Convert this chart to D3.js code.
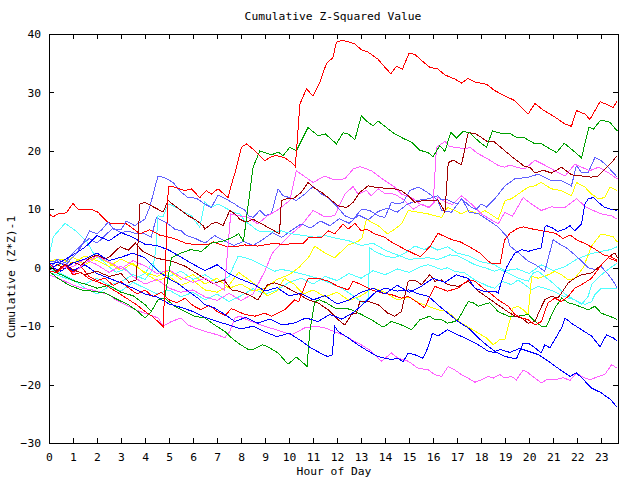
<!DOCTYPE html>
<html><head><meta charset="utf-8">
<script src="https://cdn.jsdelivr.net/npm/d3@7"></script>
<style>
body{margin:0;background:#fff;}
svg text{font-family:"DejaVu Sans Mono","Liberation Mono",monospace;font-size:11.3px;fill:#000;}
</style></head><body>
<svg id="c" width="640" height="480"></svg>
<script>
// ---- data ----
const title = "Cumulative Z-Squared Value";
const xTitle = "Hour of Day";
const yTitle = "Cumulative (Z*Z)-1";
const hourTicks = d3.range(0, 24);
const valueTicks = [-30, -20, -10, 0, 10, 20, 30, 40];
const xDomain = [0, 23.7];
const yDomain = [-30, 40];

const redA = [[0,-0.6],[0.33,-0.8],[0.67,0.5],[1,-1.2],[1.33,-0.8],[1.67,-1.9],[2,-2.4],[2.33,-2.9],[2.68,-3.8],[3,-4.6],[3.33,-5.5],[3.67,-6.4],[4,-7.5],[4.33,-8.4],[4.76,-10.1],[4.97,13.9],[5.24,13.8],[5.65,13.2],[5.93,13.5],[6.28,12.0],[6.55,13.2],[6.76,12.6],[7.04,13.5],[7.46,12.0],[7.57,13.8],[7.8,17.0],[8.01,20.6],[8.22,21.2],[8.5,20.3],[8.99,18.3],[9.26,19.0],[9.47,19.2],[9.82,18.8],[10.1,18.0],[10.26,17.3],[10.45,28.0],[10.72,30.6],[11.0,29.4],[11.28,31.7],[11.55,34.9],[11.83,36.0],[11.97,38.6],[12.18,38.9],[12.46,38.7],[12.74,38.3],[13.01,37.3],[13.29,36.9],[13.7,35.7],[13.99,34.3],[14.24,33.2],[14.47,34.5],[14.72,34.0],[15.0,36.7],[15.24,36.5],[15.65,35.0],[15.86,34.3],[16.2,34.0],[16.49,33.0],[16.9,32.3],[17.18,31.6],[17.46,32.4],[17.74,31.8],[18.22,31.4],[18.57,30.3],[18.99,29.4],[19.4,28.6],[19.96,26.3],[20.24,28.1],[20.58,27.0],[21.07,25.8],[21.49,24.6],[21.76,24.2],[21.97,26.9],[22.32,26.3],[22.53,25.4],[22.95,28.4],[23.22,28.0],[23.5,27.4],[23.67,28.6]];
const greenB = [[0,0.4],[0.33,-0.9],[0.67,-1.5],[1,-2.2],[1.5,-2.8],[2,-3.5],[2.5,-3.0],[3,-4.2],[3.5,-4.8],[4,-6.3],[4.26,-7.5],[4.54,-5.5],[4.82,-5.2],[5.1,1.7],[5.5,2.5],[5.9,3.1],[6.35,2.8],[6.76,4.2],[7.2,4.5],[7.6,5.1],[7.9,5.8],[8.1,4.5],[8.5,17.2],[8.78,20.0],[9.05,19.6],[9.26,19.3],[9.54,19.8],[9.75,19.2],[10.03,20.6],[10.3,20.0],[10.79,24.0],[11.2,22.6],[11.51,22.9],[11.97,21.2],[12.25,23.1],[12.46,22.9],[12.74,21.9],[13.01,26.0],[13.22,25.1],[13.5,24.3],[13.71,25.1],[14.05,24.0],[14.4,22.9],[14.82,22.0],[15.1,21.5],[15.45,20.1],[15.79,19.7],[16.0,19.0],[16.28,20.9],[16.49,19.9],[16.74,23.2],[16.97,22.2],[17.25,23.3],[17.53,23.1],[17.88,21.7],[18.22,20.6],[18.47,23.4],[18.85,23.0],[19.2,23.0],[19.47,22.3],[19.82,22.2],[20.24,21.2],[20.51,21.2],[21.14,19.7],[21.46,21.3],[21.76,20.3],[22.18,18.8],[22.49,24.1],[22.67,23.7],[22.99,25.3],[23.36,24.9],[23.67,23.4]];
const magentaC = [[0,0.5],[0.33,-0.6],[0.67,0.2],[1,-1.0],[1.5,0.8],[2,2.0],[2.5,1.0],[3,-0.2],[3.5,1.2],[4,0.3],[4.5,-1.0],[5,-0.4],[5.5,-1.6],[6,-2.5],[6.5,-1.8],[7,-3.0],[7.3,-3.8],[7.57,9.2],[7.88,8.9],[8.3,8.6],[8.7,7.5],[9.1,8.9],[9.5,9.8],[10.03,11.5],[10.3,16.6],[11.0,14.6],[11.49,15.7],[11.83,15.1],[12.32,15.2],[12.67,16.9],[12.95,17.3],[13.43,16.6],[13.99,14.9],[14.4,13.8],[14.68,12.6],[15.1,12.0],[15.45,10.9],[15.8,10.3],[16.0,11.0],[16.14,20.6],[16.49,21.6],[16.7,20.7],[16.97,20.6],[17.32,20.3],[17.53,20.6],[17.88,19.5],[18.29,18.6],[18.71,17.5],[18.99,17.2],[19.2,17.6],[19.47,17.2],[19.82,16.9],[20.24,18.4],[20.58,17.7],[21.07,16.6],[21.49,15.7],[21.9,17.7],[22.18,17.2],[22.53,16.6],[22.88,17.2],[23.29,16.3],[23.67,15.2]];
const magentaD = [[0,-0.3],[0.5,0.8],[1,0.2],[1.5,1.5],[2,0.5],[2.5,-0.8],[3,0.3],[3.5,-1.5],[4,-2.8],[4.5,-2.0],[5,-3.5],[5.5,-4.2],[6,-3.8],[6.5,-5.0],[7,-5.6],[7.5,-4.4],[8,-5.6],[8.5,-4.5],[9,-0.5],[9.3,2.5],[9.6,3.8],[10.1,5.8],[10.5,7.2],[11.0,9.8],[11.49,8.7],[11.9,8.9],[12.32,12.6],[12.67,13.9],[12.87,12.6],[13.22,13.2],[13.43,12.3],[13.71,13.5],[13.99,12.7],[14.4,12.6],[14.82,11.5],[15.17,10.0],[15.51,10.9],[15.86,10.3],[16.2,12.0],[16.56,11.2],[16.8,10.8],[17.18,12.3],[17.6,10.9],[18.01,9.2],[18.71,7.5],[18.99,9.5],[19.3,8.8],[19.75,12.0],[20.1,10.9],[20.5,9.8],[20.93,10.4],[21.49,10.3],[21.97,11.8],[22.39,10.3],[23.01,9.2],[23.43,8.9],[23.67,8.3]];
const darkRedE = [[0,0.2],[0.33,-0.6],[0.67,0.6],[1,-0.3],[1.5,-1.2],[2,-0.6],[2.5,-1.5],[3,-1.0],[3.33,-2.5],[3.64,-2.1],[3.78,10.9],[3.99,11.2],[4.26,10.6],[4.54,10.0],[4.75,9.5],[4.96,11.5],[5.24,10.6],[5.51,9.8],[5.79,8.9],[6.07,8.3],[6.42,7.2],[6.49,6.6],[6.76,7.5],[6.97,7.8],[7.25,7.2],[7.53,9.8],[7.74,9.2],[7.95,8.3],[8.2,7.8],[8.5,8.3],[8.99,7.2],[9.47,6.1],[9.6,5.8],[9.68,11.5],[9.89,11.8],[10.2,11.9],[10.51,12.9],[10.79,14.6],[11.0,13.8],[11.35,12.9],[11.63,12.0],[12.04,10.6],[12.39,10.3],[12.67,11.2],[12.95,12.9],[13.29,14.0],[13.57,13.8],[13.99,13.6],[14.4,13.5],[14.68,13.2],[14.96,12.3],[15.24,11.2],[15.58,11.5],[15.86,11.5],[16.2,11.6],[16.4,10.2],[16.49,9.5],[16.63,18.0],[16.84,18.4],[17.18,17.6],[17.46,23.1],[17.74,23.0],[18.01,22.3],[18.29,21.5],[18.5,21.7],[18.99,20.0],[19.4,18.6],[19.82,17.3],[20.03,17.2],[20.24,16.2],[20.58,16.7],[20.93,16.2],[21.35,17.2],[21.76,15.9],[22.18,15.7],[22.6,15.5],[22.88,15.7],[23.15,16.9],[23.43,18.0],[23.67,19.2]];
const slateF = [[0,1.0],[0.33,1.2],[0.67,0.4],[1,1.8],[1.33,3.5],[1.69,6.3],[2.0,5.8],[2.2,6.5],[2.46,7.8],[2.7,6.6],[3.0,6.5],[3.22,8.0],[3.57,7.2],[3.99,8.3],[4.19,10.3],[4.54,15.7],[4.82,15.4],[5.17,14.6],[5.51,12.9],[5.79,12.0],[6.14,11.9],[6.49,10.9],[6.76,10.3],[7.04,12.4],[7.32,11.9],[7.74,10.9],[7.95,10.3],[8.15,9.9],[8.3,8.9],[8.5,8.6],[8.78,9.8],[9.0,8.9],[9.26,9.2],[9.54,13.5],[9.75,12.3],[10.03,12.0],[10.3,11.5],[10.65,12.6],[11.0,13.9],[11.35,12.6],[11.63,12.0],[11.97,10.6],[12.32,8.9],[12.67,8.3],[13.01,10.0],[13.36,9.8],[13.71,8.9],[13.99,8.6],[14.26,11.2],[14.5,10.9],[14.75,11.2],[15.03,13.2],[15.37,13.8],[15.65,13.2],[15.86,12.6],[16.2,11.5],[16.35,9.8],[16.76,9.5],[17.18,11.8],[17.6,10.3],[17.8,10.0],[18.0,10.9],[18.22,10.4],[18.57,11.8],[18.99,14.0],[19.4,15.2],[19.96,15.5],[20.37,16.0],[20.93,14.9],[21.35,14.9],[21.76,14.0],[21.97,17.5],[22.18,16.3],[22.46,16.3],[22.74,18.9],[23.01,18.3],[23.29,17.2],[23.67,15.5]];
const slateG = [[0,-0.4],[0.33,1.5],[0.67,0.8],[1,2.5],[1.33,3.8],[1.67,5.0],[2,4.2],[2.33,5.5],[2.67,6.8],[3,6.0],[3.29,6.3],[3.64,5.8],[3.99,5.8],[4.26,5.2],[4.47,8.6],[4.75,8.0],[4.96,7.5],[5.24,6.6],[5.51,6.3],[5.72,5.5],[6.1,5.0],[6.5,4.2],[6.9,5.5],[7.3,4.6],[7.7,3.8],[8.1,4.5],[8.5,3.8],[8.9,4.8],[9.3,6.0],[9.7,5.2],[10.1,6.4],[10.5,7.5],[10.9,6.8],[11.3,8.0],[11.7,7.2],[12.1,8.4],[12.5,7.6],[12.9,9.0],[13.3,8.2],[13.7,9.6],[14.1,10.2],[14.5,9.5],[14.9,10.8],[15.3,11.5],[15.8,11.8],[16.2,12.3],[16.35,11.6],[16.6,11.6],[17,10.9],[17.2,11.8],[17.5,9.5],[17.9,9.2],[18.2,8.4],[18.7,7.0],[19.1,5.2],[19.2,3.7],[19.6,2.4],[19.96,1.1],[20.3,0.4],[20.65,-0.6],[21.0,4.8],[21.2,4.2],[21.55,3.4],[21.9,2.2],[22.2,1.1],[22.46,0],[22.74,-0.3],[23.0,0.2],[23.3,-1.2],[23.5,-2.3],[23.67,-3.5]];
const greenH = [[0,-0.6],[0.37,-1.8],[0.79,-2.9],[1.35,-3.8],[1.76,-4.0],[2.32,-4.3],[2.6,-4.9],[2.88,-5.5],[3.29,-6.3],[3.71,-7.5],[3.99,-8.6],[4.26,-7.5],[4.54,-5.5],[4.82,-5.2],[5.24,-6.6],[5.65,-7.5],[6.07,-8.3],[6.49,-8.6],[6.9,-9.8],[7.32,-10.9],[7.6,-12.0],[7.88,-12.9],[8.3,-14.0],[8.5,-14.0],[8.9,-13.2],[9.1,-13.5],[9.54,-14.6],[9.96,-16.5],[10.3,-15.3],[10.51,-16.0],[10.75,-16.9],[10.86,-10.9],[11.07,-5.8],[11.28,-5.5],[11.55,-6.0],[11.9,-6.9],[12.32,-6.9],[12.6,-7.2],[13.01,-8.0],[13.43,-8.9],[13.85,-10.0],[13.99,-10.0],[14.26,-9.2],[14.68,-9.8],[15.1,-10.6],[15.45,-8.9],[15.86,-8.3],[16.07,-8.9],[16.35,-8.9],[16.6,-9.5],[16.9,-9.2],[17.04,-8.9],[17.46,-5.8],[17.67,-6.0],[17.88,-6.6],[18.08,-6.3],[18.36,-6.0],[18.71,-7.5],[19.13,-8.3],[19.54,-8.3],[19.96,-8.0],[20.24,-9.2],[20.51,-10.0],[20.72,-10.0],[21.07,-6.9],[21.35,-5.2],[21.63,-6.0],[21.9,-6.3],[22.46,-7.2],[22.74,-6.6],[23.01,-7.8],[23.36,-8.3],[23.67,-8.9]];
const blueJ = [[0,0.3],[0.5,-0.6],[1,0.8],[1.5,1.5],[2,2.5],[2.5,1.2],[3,1.8],[3.5,2.5],[4,1.7],[4.54,-0.6],[4.96,-1.8],[5.4,-2.8],[5.79,-4.0],[6.2,-5.2],[6.49,-6.3],[6.9,-6.9],[7.32,-8.0],[7.74,-9.2],[8.2,-8.5],[8.7,-9.5],[9.2,-8.8],[9.7,-9.8],[10.2,-9.5],[10.7,-8.6],[11.2,-9.2],[11.7,-8.0],[12.2,-8.8],[12.7,-7.6],[13.2,-5.8],[13.6,-4.2],[14,-3.5],[14.5,-4.0],[15,-3.8],[15.4,-4.5],[15.8,-4.9],[16.35,-6.9],[17.04,-9.2],[17.46,-10.3],[17.88,-12.0],[18.22,-13.2],[18.57,-14.3],[18.8,-14.0],[19.2,-14.5],[19.6,-13.8],[19.96,-14.3],[20.4,-14.9],[20.8,-16.0],[21.2,-17.2],[21.7,-18.6],[21.97,-18.0],[22.2,-18.9],[22.6,-20.6],[23.0,-21.4],[23.4,-22.6],[23.67,-23.9]];
const blueK = [[0,-0.2],[0.5,0.8],[1,-0.5],[1.5,0.5],[2,-1],[2.5,-1.8],[3,-2.6],[3.5,-3.5],[4,-4.5],[4.5,-5.0],[5,-6.2],[5.5,-6.8],[6,-7.5],[6.5,-8.5],[7,-9.2],[7.5,-9.8],[8,-10.5],[8.5,-10.0],[9,-11.0],[9.5,-11.8],[10,-11.2],[10.5,-12.5],[10.9,-13.7],[11.3,-14.6],[11.6,-15.2],[11.8,-14.9],[11.9,-10.0],[12.04,-10.9],[12.46,-12.0],[12.87,-13.2],[13.3,-14.3],[13.7,-15.2],[14.0,-15.5],[14.26,-15.7],[14.54,-15.5],[14.75,-16.1],[14.96,-14.6],[15.24,-14.9],[15.58,-15.5],[15.8,-13.5],[15.97,-11.2],[16.2,-11.7],[16.6,-10.6],[17.04,-11.5],[17.46,-12.3],[17.88,-13.2],[18.3,-14.3],[18.7,-14.6],[19.0,-15.2],[19.47,-15.6],[19.75,-12.9],[19.96,-12.9],[20.24,-13.7],[20.5,-14.6],[20.65,-13.2],[20.86,-13.7],[21.07,-12.3],[21.35,-10.3],[21.49,-8.6],[21.76,-9.5],[22.18,-10.6],[22.6,-11.7],[22.95,-13.5],[23.22,-11.5],[23.5,-12.0],[23.67,-12.6]];
const blueL = [[0,0.6],[0.5,1],[1,2.2],[1.5,3.5],[2,5.5],[2.5,4.6],[3,6.0],[3.5,5.2],[4,4.0],[4.5,3.8],[5,3.0],[5.5,1.8],[6,0.6],[6.5,-0.5],[7,0.5],[7.5,-1.0],[8,-2.0],[8.5,-2.8],[9,-4.0],[9.5,-3.4],[10,-4.8],[10.5,-4.4],[11,-5.5],[11.5,-4.8],[12,-6.2],[12.5,-5.5],[13,-4.2],[13.5,-3.5],[14,-4.5],[14.5,-3.0],[15,-4.2],[15.5,-3.2],[16,-1.8],[16.5,-2.5],[16.97,-1.2],[17.18,-1.5],[17.46,-1.8],[17.74,-3.5],[18.08,-4.0],[18.57,-4.0],[18.71,-4.3],[18.85,-2.3],[19.05,0],[19.4,2.5],[19.68,3.1],[19.96,2.8],[20.24,3.1],[20.5,3.4],[20.65,6.9],[20.72,7.2],[20.93,6.9],[21.2,6.2],[21.49,6.6],[21.7,7.2],[21.9,6.3],[22.18,7.5],[22.32,10.9],[22.46,11.8],[22.67,12.0],[22.88,11.2],[23.15,10.3],[23.43,10.0],[23.67,9.8]];
const magentaS = [[0,-1.2],[0.55,-2.1],[0.97,-2.9],[1.39,-3.5],[1.8,-3.8],[2.5,-4.6],[2.78,-5.5],[3.33,-6.6],[3.6,-7.2],[4.0,-7.8],[4.55,-8.6],[4.75,-10.0],[5.1,-9.2],[5.5,-8.6],[5.8,-9.8],[6.07,-10.3],[6.49,-10.9],[6.76,-11.2],[7.04,-11.5],[7.32,-12.0],[7.53,-10.9],[7.74,-8.6],[7.95,-8.3],[8.3,-9.0],[8.7,-9.6],[9.1,-10.2],[9.4,-10.5],[9.68,-10.9],[10.1,-11.5],[10.65,-10.3],[11.07,-10.0],[11.49,-10.3],[12.04,-11.2],[12.25,-11.5],[12.6,-12.3],[13.01,-13.2],[13.43,-14.3],[13.85,-16.0],[14.26,-14.6],[14.54,-15.5],[14.96,-16.0],[15.37,-17.2],[15.8,-17.5],[16.07,-18.3],[16.35,-18.6],[16.63,-16.9],[16.9,-17.5],[17.18,-18.3],[17.46,-18.9],[17.74,-19.6],[18.01,-19.2],[18.29,-18.6],[18.5,-18.9],[18.78,-18.3],[18.99,-18.9],[19.26,-18.6],[19.47,-19.2],[19.75,-17.5],[19.96,-18.0],[20.24,-18.9],[20.51,-19.7],[20.72,-19.2],[21.07,-19.2],[21.42,-18.8],[21.7,-19.3],[21.97,-18.0],[22.18,-18.6],[22.53,-19.2],[22.88,-18.6],[23.15,-18.3],[23.43,-16.6],[23.67,-17.2]];
const yellowY1 = [[0,1.2],[0.5,1.5],[1,0.8],[1.5,2.0],[2,1.2],[2.5,0.2],[3,1.5],[3.5,0.5],[4,-0.8],[4.5,-1.5],[5,-0.5],[5.5,-2.0],[6,-1.2],[6.5,-2.8],[7,-1.8],[7.5,-3.5],[8,-2.8],[8.5,-4.0],[9,-3.5],[9.5,-2.0],[10,-1.2],[10.4,0],[10.8,1.7],[11.07,3.7],[11.5,2.5],[11.9,1.7],[12.18,2.8],[12.46,3.9],[12.87,4.5],[13.04,5.1],[13.22,8.3],[13.43,7.8],[13.71,7.2],[14.1,5.8],[14.4,6.6],[14.68,7.5],[14.96,9.8],[15.37,9.5],[15.8,9.2],[16.07,8.9],[16.35,8.6],[16.6,10.3],[16.9,9.8],[17.18,9.2],[17.46,9.8],[17.88,9.2],[18.15,9.8],[18.71,8.3],[19.0,11.5],[19.26,11.8],[19.54,12.6],[19.96,13.8],[20.24,14.0],[20.5,14.6],[20.93,13.5],[21.35,13.2],[21.76,12.3],[21.97,14.6],[22.32,13.8],[22.6,12.6],[22.88,11.8],[23.15,12.0],[23.36,13.8],[23.67,13.2]];
const yellowY2 = [[0,0],[0.5,0.6],[1,1.8],[1.5,0.5],[2,1.8],[2.5,0.8],[3,-0.5],[3.5,0.8],[4,-1.0],[4.5,-2.2],[5,-1.5],[5.5,-3.0],[6,-2.2],[6.5,-3.8],[7,-4.2],[7.5,-3.0],[7.9,-0.8],[8.3,-2.0],[8.7,-3.2],[9.1,-4.8],[9.5,-4.0],[9.8,-1.8],[10.2,-2.8],[10.6,-4.5],[11,-3.8],[11.5,-5.0],[12,-4.2],[12.5,-5.6],[13,-4.8],[13.5,-3.5],[14,-4.2],[14.5,-5.5],[15,-5.0],[15.4,-6.0],[15.8,-6.6],[16.2,-7.2],[16.6,-7.5],[16.9,-8.6],[17.18,-9.5],[17.53,-10.3],[17.88,-11.2],[18.22,-12.0],[18.5,-13.2],[18.78,-12.3],[18.99,-12.3],[19.13,-10.0],[19.33,-6.9],[19.54,-6.6],[19.75,-7.2],[19.96,-8.0],[20.1,-1.5],[20.38,-1.8],[20.8,-1.2],[21.07,-0.6],[21.35,-1.2],[21.63,-2.1],[21.9,-1.8],[22.25,0],[22.46,2.2],[22.6,3.7],[22.74,4.5],[22.96,5.6],[23.2,5.6],[23.5,5.3],[23.67,4.4]];
const cyanC1 = [[0,2.0],[0.18,5.3],[0.67,7.6],[1.15,6.2],[1.57,4.5],[1.85,2.5],[2.05,1.9],[2.4,0.5],[2.8,-0.8],[3.2,-0.2],[3.6,-1.8],[4.0,-1.0],[4.3,0.8],[4.54,-0.5],[5,-1.5],[5.5,-0.6],[6,-2.0],[6.5,-1.2],[7,-2.5],[7.5,-1.5],[7.88,2.0],[8.43,1.4],[8.99,0.2],[9.4,-0.6],[9.68,-0.3],[10.1,-0.6],[10.65,-1.2],[11.2,-1.8],[11.7,-2.6],[12.18,-3.5],[12.6,-4.6],[12.9,-5.5],[13.1,-6.0],[13.3,-5.2],[13.36,3.4],[13.57,2.8],[13.99,2.0],[14.4,1.7],[14.82,2.5],[15.24,3.7],[15.65,3.1],[15.86,3.7],[16.2,3.0],[16.6,3.6],[17.0,2.5],[17.5,2.0],[18.0,1.0],[18.5,0.6],[19.0,-0.5],[19.5,-0.2],[20.0,-1.0],[20.5,0.5],[21.0,-0.5],[21.5,0.2],[22.0,1.5],[22.5,2.3],[23.0,2.8],[23.4,3.1],[23.67,3.6]];
const cyanC2 = [[0,-0.8],[0.5,-1.5],[1,-2.2],[1.5,-2.8],[2,-1.8],[2.5,-3.0],[3,-2.4],[3.5,-1.2],[4,-2.0],[4.3,-0.5],[4.45,3.0],[4.54,8.9],[4.75,8.7],[4.96,10.9],[5.17,10.6],[5.51,9.8],[5.93,8.9],[6.28,6.9],[6.49,11.2],[6.76,10.3],[7.04,10.9],[7.32,10.3],[7.67,9.5],[7.95,9.2],[8.15,8.0],[8.43,7.2],[8.7,6.3],[9.26,6.1],[9.68,6.3],[10.1,5.8],[10.65,5.5],[11.07,5.2],[11.5,5.5],[12,5.0],[12.5,4.6],[13,3.8],[13.5,4.2],[14,3.0],[14.5,2.2],[15,1.4],[15.4,1.6],[15.8,1.7],[16.2,1.4],[16.7,2.2],[17.04,2.0],[17.32,1.4],[17.74,0.5],[18.15,0],[18.57,-0.6],[18.78,-0.3],[19.13,-0.9],[19.54,-1.8],[19.96,-2.3],[20.17,-0.9],[20.37,-0.6],[20.65,-1.5],[21.07,-2.9],[21.35,-4.0],[21.63,-4.9],[22.04,-5.8],[22.32,-6.3],[22.6,-5.8],[22.74,-4.6],[23.01,-3.5],[23.29,-3.5],[23.67,-3.5]];
const cyanC3 = [[0,-0.2],[0.5,-1.0],[1,-2.0],[1.5,-3.5],[2,-4.5],[2.5,-3.2],[3,-4.0],[3.5,-2.5],[4,-3.5],[4.5,-4.5],[5,-3.8],[5.5,-5.0],[6,-4.2],[6.5,-5.5],[7,-4.5],[7.5,-5.8],[8,-4.8],[8.5,-3.6],[9,-4.5],[9.5,-3.8],[10,-2.5],[10.5,-1.8],[11,-2.8],[11.5,-1.5],[12,-2.2],[12.5,-1.0],[13,-1.8],[13.5,-0.5],[14,-1.2],[14.5,-0.2],[15,-0.8],[15.5,0.2],[15.8,0.5],[16.35,-0.3],[16.6,0],[16.9,-0.6],[17.32,-0.9],[17.74,-2.1],[18.0,-2.6],[18.3,-3.2],[18.57,-3.5],[18.85,-2.3],[19.26,-2.9],[19.54,-2.1],[19.82,-2.9],[20.1,-3.8],[20.37,-3.2],[20.65,-3.5],[21.0,-4.0],[21.28,-4.6],[21.63,-5.2],[21.9,-5.5],[22.18,-6.3],[22.46,-4.9],[22.6,-2.9],[22.74,-2.3],[23.01,-1.2],[23.29,-0.3],[23.67,0.8]];
const redR2 = [[0,9.2],[0.17,8.7],[0.37,9.2],[0.72,9.4],[1.0,11.0],[1.21,10.0],[1.76,10.0],[2.04,9.5],[2.39,8.0],[2.6,7.5],[2.8,7.6],[3.22,7.5],[3.43,6.9],[3.78,5.8],[4.2,6.5],[4.6,5.6],[5.2,5.0],[5.7,4.2],[6.15,3.9],[6.57,3.9],[6.85,4.4],[7.4,3.6],[7.88,3.7],[8.15,3.9],[8.7,3.7],[8.99,3.9],[9.4,4.2],[9.82,3.9],[10.17,4.2],[10.6,4.2],[10.8,5.1],[11.35,5.2],[11.63,6.3],[11.9,5.8],[12.25,7.5],[12.46,6.6],[12.74,7.6],[13.01,6.3],[13.22,6.6],[13.57,5.8],[13.99,5.2],[14.3,4.3],[14.8,3.2],[15.2,2.4],[15.46,1.9],[15.87,3.6],[16.2,5.9],[16.5,5.3],[16.85,4.7],[17.1,4.5],[17.5,3.6],[17.96,2.5],[18.24,1.3],[18.4,0.8],[18.8,0.8],[18.97,4.7],[19.2,5.9],[19.5,6.7],[19.76,7.0],[20.04,6.7],[20.3,6.5],[20.7,6.2],[21.1,5.9],[21.4,5.0],[21.7,5.6],[22.0,4.7],[22.3,4.2],[22.7,3.3],[23.1,2.2],[23.4,1.9],[23.67,1.3]];
const redR3 = [[0,0.8],[0.33,-0.5],[0.67,0.5],[1,-0.8],[1.33,0.2],[1.67,-1.5],[2,-2.2],[2.33,-1.8],[2.67,-3.0],[3,-2.4],[3.33,-3.5],[3.67,-4.5],[4,-3.8],[4.33,-5.0],[4.67,-4.2],[5,-5.5],[5.33,-6.0],[5.67,-5.2],[6,-6.5],[6.33,-7.2],[6.67,-6.4],[7,-7.5],[7.33,-8.2],[7.6,-7.0],[7.88,-7.5],[8.15,-8.0],[8.57,-8.3],[8.99,-7.8],[9.26,-8.3],[9.82,-7.2],[10.24,-5.5],[10.4,-5.8],[10.65,-3.2],[10.8,-1.8],[11.2,-1.8],[11.63,-2.3],[12.04,-3.2],[12.46,-3.8],[12.67,-2.3],[13.01,-2.9],[13.43,-3.8],[13.85,-4.3],[14.26,-4.6],[14.68,-5.2],[14.96,-4.9],[15.37,-6.0],[15.65,-6.9],[15.86,-4.9],[16.07,-3.2],[16.6,-4.0],[17.04,-3.5],[17.46,-2.1],[17.74,-2.3],[18.08,-3.5],[18.36,-4.3],[18.71,-5.5],[19.13,-6.6],[19.4,-8.0],[19.68,-8.6],[19.96,-8.9],[20.24,-9.8],[20.51,-9.2],[20.65,-7.5],[20.79,-6.0],[21.07,-5.2],[21.35,-5.8],[21.63,-4.9],[21.9,-3.5],[22.18,-2.9],[22.6,-1.8],[23.01,0.5],[23.29,1.7],[23.67,1.1]];
const darkRedR = [[0,-0.5],[0.33,0.6],[0.67,-0.2],[1,1.0],[1.33,0.4],[1.67,1.6],[2,2.2],[2.33,1.5],[2.54,1.9],[2.96,3.6],[3.3,3.0],[3.6,4.2],[3.9,2.8],[4.2,2.2],[4.5,1.6],[4.9,1.3],[5.2,1.0],[5.7,0.2],[6.15,-1.0],[6.57,-2.1],[6.85,-2.7],[7.3,-2.1],[7.6,-3.8],[7.88,-4.0],[8.3,-4.6],[8.7,-5.5],[9.1,-2.9],[9.4,-2.6],[9.82,-3.2],[10.17,-4.0],[10.45,-4.6],[10.79,-5.5],[11.2,-6.0],[11.63,-7.2],[12.04,-8.9],[12.32,-9.8],[12.6,-8.0],[12.8,-7.8],[12.95,-5.8],[13.3,-5.8],[13.71,-6.3],[14.12,-7.8],[14.4,-8.3],[14.68,-7.5],[14.96,-2.3],[15.24,-2.1],[15.51,-2.9],[15.86,-1.2],[16.07,-2.3],[16.35,-2.1],[16.6,-2.9],[17.04,-3.2],[17.46,-2.3],[17.88,-4.0],[18.3,-5.2],[18.57,-6.0],[18.99,-7.2],[19.4,-8.3],[19.68,-8.6],[19.96,-9.5],[20.24,-9.2],[20.45,-7.2],[20.65,-5.5],[20.93,-4.9],[21.2,-5.2],[21.35,-4.3],[21.63,-2.6],[21.9,-1.8],[22.18,-1.2],[22.6,-0.9],[23.01,0.5],[23.36,2.0],[23.57,2.5],[23.67,1.7]];

// colours (styles kept apart from values)
const palette = {red:"#ff0000", green:"#00a000", blue:"#0000ff", slate:"#6060ff", magenta:"#ff60ff", cyan:"#50ffff", darkred:"#a00000", yellow:"#ffff00"};
const series = [
  {values: cyanC3, color: palette.cyan},
  {values: yellowY2, color: palette.yellow},
  {values: cyanC1, color: palette.cyan},
  {values: yellowY1, color: palette.yellow},
  {values: magentaS, color: palette.magenta},
  {values: magentaD, color: palette.magenta},
  {values: slateG, color: palette.slate},
  {values: cyanC2, color: palette.cyan},
  {values: greenH, color: palette.green},
  {values: darkRedR, color: palette.darkred},
  {values: redR3, color: palette.red},
  {values: redR2, color: palette.red},
  {values: blueL, color: palette.blue},
  {values: blueK, color: palette.blue},
  {values: blueJ, color: palette.blue},
  {values: slateF, color: palette.slate},
  {values: magentaC, color: palette.magenta},
  {values: darkRedE, color: palette.darkred},
  {values: greenB, color: palette.green},
  {values: redA, color: palette.red}
];

// ---- layout ----
const L = 49, R = 618, T = 34, B = 443;
const svg = d3.select("#c");
const x = d3.scaleLinear().domain(xDomain).range([L, R]);
const y = d3.scaleLinear().domain(yDomain).range([B, T]);

svg.append("rect").attr("width",640).attr("height",480).attr("fill","#fff");

const line = d3.line().x(d => x(d[0])).y(d => y(d[1]));
const plot = svg.append("g");
plot.append("clipPath").attr("id","clip").append("rect").attr("x",L).attr("y",T).attr("width",R-L).attr("height",B-T);
const lines = plot.append("g").attr("clip-path","url(#clip)");
series.forEach(s => {
  lines.append("path").attr("d", line(s.values)).attr("fill","none")
    .attr("stroke", s.color).attr("stroke-width",1).attr("shape-rendering","crispEdges");
});

// axes
function styleAxis(g){
  g.select(".domain").remove();
  g.selectAll(".tick line").attr("stroke","#000").attr("shape-rendering","crispEdges");
  g.selectAll("text").attr("font-family",null).attr("font-size",null);
}
svg.append("g").attr("transform",`translate(0,${B})`)
  .call(d3.axisBottom(x).tickValues(hourTicks).tickSizeInner(-5).tickSizeOuter(0).tickPadding(10).tickFormat(d3.format("d")))
  .call(styleAxis);
svg.append("g").attr("transform",`translate(0,${T})`)
  .call(d3.axisTop(x).tickValues(hourTicks.slice(1)).tickSizeInner(-5).tickSizeOuter(0).tickFormat(""))
  .call(styleAxis);
svg.append("g").attr("transform",`translate(${L},0)`)
  .call(d3.axisLeft(y).tickValues(valueTicks).tickSizeInner(-5).tickSizeOuter(0).tickPadding(8).tickFormat(d3.format("d")))
  .call(styleAxis);
svg.append("g").attr("transform",`translate(${R},0)`)
  .call(d3.axisRight(y).tickValues(valueTicks).tickSizeInner(-5).tickSizeOuter(0).tickFormat(""))
  .call(styleAxis);

svg.append("rect").attr("x",L+0.5).attr("y",T+0.5).attr("width",R-L).attr("height",B-T)
  .attr("fill","none").attr("stroke","#000").attr("stroke-width",1);

svg.append("text").attr("x",333).attr("y",20).attr("text-anchor","middle").text(title);
svg.append("text").attr("x",334).attr("y",475).attr("text-anchor","middle").text(xTitle);
svg.append("text").attr("transform","translate(15,277) rotate(-90)").attr("text-anchor","middle").text(yTitle);
</script>
</body></html>
